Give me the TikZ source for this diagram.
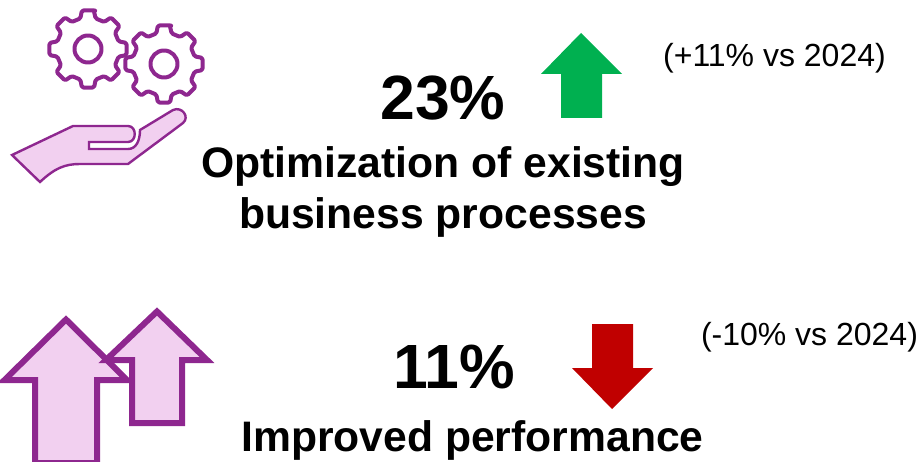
\documentclass[tikz,border=0pt]{standalone}
\usepackage{fontspec}
\setmainfont{Liberation Sans}
\definecolor{plum}{HTML}{8E278F}
\definecolor{lilac}{HTML}{F2D0F0}
\definecolor{upgreen}{HTML}{00B050}
\definecolor{downred}{HTML}{C00000}
\tikzset{
  bigpct/.style={anchor=base,inner sep=0pt,font=\fontsize{62.5}{62.5}\selectfont\bfseries},
  headline/.style={anchor=base,inner sep=0pt,font=\fontsize{42.67}{42.67}\selectfont\bfseries},
  delta/.style={anchor=base,inner sep=0pt,font=\fontsize{32}{32}\selectfont},
  icon/.style={draw=plum,fill=lilac,line join=miter},
  gearline/.style={draw=plum,fill=white,line width=4pt,line join=round},
}
\newcommand{\gearicon}[2]{%
  \begin{scope}[shift={(#1,#2)},x=1pt,y=1pt]
  \draw[gearline,rounded corners=1.5pt]
    (81.5:39) \foreach \a in {90,135,180,225,270,315,360,405}{
      -- ({\a-9}:39) -- ({\a+9}:39) -- ({\a+14}:31.5) -- ({\a+31}:31.5)
    } -- cycle;
  \draw[gearline] (0,0) circle (13.5);
  \end{scope}
}
\begin{document}
\begin{tikzpicture}[x=1pt,y=-1pt]
\useasboundingbox (0,0) rectangle (923,462);
% gears
\gearicon{88}{49}
\gearicon{164}{64}
% hand
\draw[icon,line width=2.4pt] (12,155) -- (73,126) -- (128,126)
  .. controls (137,126) and (137,142) .. (128,142) -- (89,142) -- (89,149) -- (128,149)
  .. controls (136,149) and (140,141) .. (140,130) -- (173,110)
  .. controls (182,106) and (190,117) .. (183,123) -- (128,164) -- (80,164)
  .. controls (65,164) and (55,168) .. (40,182) -- cycle;
% rising arrows
\draw[icon,line width=6pt] (4.5,380) -- (66,319.5) -- (127,380) -- (97,380) -- (97,463) -- (35,463) -- (35,380) -- cycle;
\draw[icon,line width=6pt] (106,360) -- (157,311.5) -- (207,360) -- (182,360) -- (182,423) -- (132,423) -- (132,360) -- cycle;
% trend arrows
\fill[upgreen] (581,33) -- (622,74) -- (602,74) -- (602,118) -- (561,118) -- (561,74) -- (541,74) -- cycle;
\fill[downred] (612,409) -- (653,368) -- (633,368) -- (633,324) -- (592,324) -- (592,368) -- (572,368) -- cycle;
% text
\node[bigpct] (pa) at (443,120) {23\%};
\node[headline] (ha) at (443,178) {Optimization of existing};
\node[headline] (hb) at (443,229) {business processes};
\node[delta] (da) at (774.5,67) {(+11\% vs 2024)};
\node[bigpct] (pb) at (454,388) {11\%};
\node[headline] (hc) at (472.5,451) {Improved performance};
\node[delta] (db) at (809.5,345) {(-10\% vs 2024)};
\end{tikzpicture}
\end{document}
